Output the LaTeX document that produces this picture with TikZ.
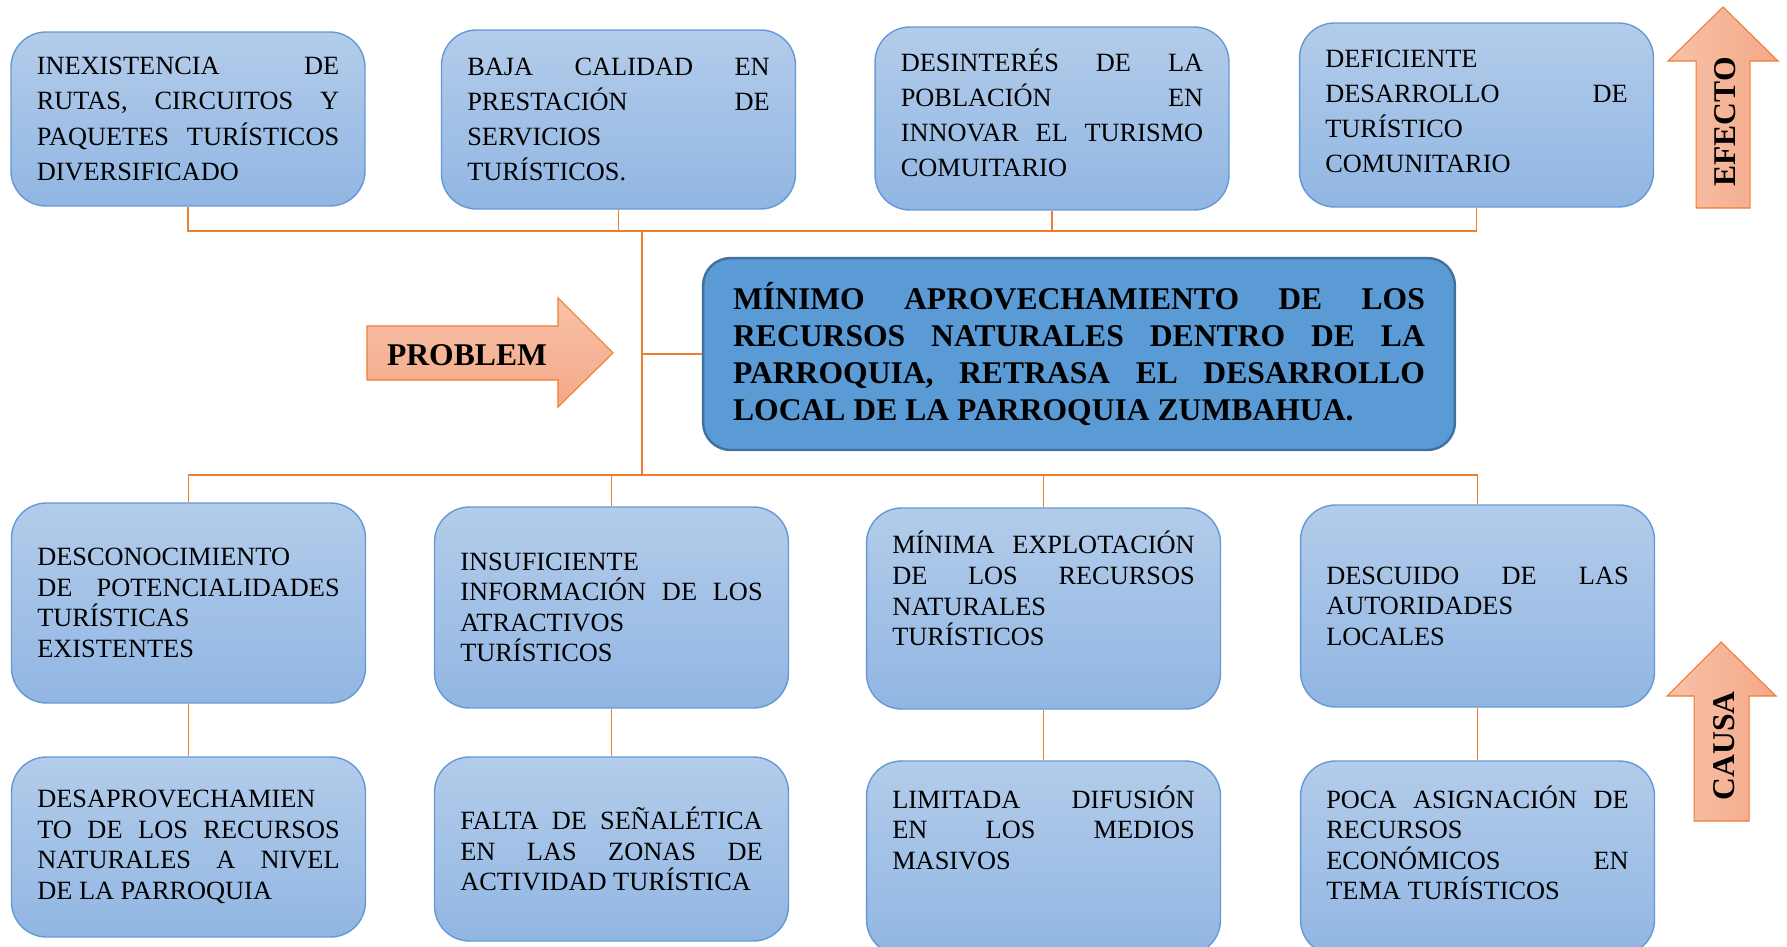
\documentclass[tikz,border=0pt]{standalone}
\usepackage{fontspec}
\setmainfont{Liberation Serif}

\definecolor{cajaarriba}{RGB}{179,204,234}
\definecolor{cajaabajo}{RGB}{145,182,227}
\definecolor{cajaborde}{RGB}{100,153,212}
\definecolor{problemafondo}{RGB}{91,155,213}
\definecolor{problemaborde}{RGB}{65,113,156}
\definecolor{linea}{RGB}{237,125,49}
\definecolor{flechaclara}{RGB}{247,194,168}
\definecolor{flechaoscura}{RGB}{244,168,136}

\tolerance=10000
\hbadness=10000

\begin{document}
\begin{tikzpicture}[x=0.02cm, y=-0.02cm,
  caja/.style={draw=cajaborde, line width=0.8pt, top color=cajaarriba, bottom color=cajaabajo,
    rounded corners=0.7cm, text width=6.05cm, inner xsep=0.515cm, inner ysep=0pt, align=justify},
  efecto/.style={caja, font=\fontsize{15}{20}\selectfont},
  causa/.style={caja, font=\fontsize{15}{17.4}\selectfont},
  conector/.style={draw=linea, line width=0.9pt},
  flecha/.style={draw=linea, line width=0.6pt},
  rotulo/.style={font=\fontsize{18}{21}\selectfont\bfseries}]
\useasboundingbox (0,0) rectangle (1787,946);

% efectos
\node[efecto, minimum height=3.48cm] (e1) at (188,119)
  {INEXISTENCIA DE\linebreak RUTAS, CIRCUITOS Y\linebreak PAQUETES TURÍSTICOS\linebreak DIVERSIFICADO};
\node[efecto, minimum height=3.58cm] (e2) at (618.5,119.5)
  {BAJA CALIDAD EN\linebreak PRESTACIÓN DE\linebreak SERVICIOS\newline TURÍSTICOS.};
\node[efecto, minimum height=3.66cm] (e3) at (1052,118.5)
  {DESINTERÉS DE LA\linebreak POBLACIÓN EN\linebreak INNOVAR EL TURISMO\linebreak COMUITARIO\rule[-0.23cm]{0pt}{0pt}};
\node[efecto, minimum height=3.68cm] (e4) at (1476.5,115)
  {DEFICIENTE\newline DESARROLLO DE\linebreak TURÍSTICO\newline COMUNITARIO\rule[-0.16cm]{0pt}{0pt}};

% problema central
\node[draw=problemaborde, line width=1.4pt, fill=problemafondo, rounded corners=0.55cm,
  text width=13.84cm, inner xsep=0.6cm, minimum height=3.84cm, align=justify,
  font=\fontsize{18}{21}\selectfont\bfseries] (p) at (1079,354)
  {MÍNIMO APROVECHAMIENTO DE LOS\linebreak RECURSOS NATURALES DENTRO DE LA\linebreak PARROQUIA, RETRASA EL DESARROLLO\linebreak LOCAL DE LA PARROQUIA ZUMBAHUA.};

% causas
\node[causa, minimum height=4cm] (c1) at (188.5,603)
  {DESCONOCIMIENTO\newline DE POTENCIALIDADES\linebreak TURÍSTICAS\newline EXISTENTES};
\node[causa, minimum height=4.02cm] (c2) at (611.5,607.5)
  {INSUFICIENTE\newline INFORMACIÓN DE LOS\linebreak ATRACTIVOS\newline TURÍSTICOS};
\node[causa, minimum height=4.02cm] (c3) at (1043.5,608.5)
  {MÍNIMA EXPLOTACIÓN\linebreak DE LOS RECURSOS\linebreak NATURALES\newline TURÍSTICOS\rule[-0.8cm]{0pt}{0pt}};
\node[causa, minimum height=4.04cm] (c4) at (1477.5,606)
  {DESCUIDO DE LAS\linebreak AUTORIDADES\newline LOCALES};

% subcausas
\node[causa, minimum height=3.6cm] (s1) at (188.5,847)
  {DESAPROVECHAMIEN\newline TO DE LOS RECURSOS\linebreak NATURALES A NIVEL\linebreak DE LA PARROQUIA};
\node[causa, minimum height=3.68cm] (s2) at (611.5,849)
  {FALTA DE SEÑALÉTICA\linebreak EN LAS ZONAS DE\linebreak ACTIVIDAD TURÍSTICA};
\node[causa, minimum height=3.88cm] (s3) at (1043.5,858)
  {LIMITADA DIFUSIÓN\linebreak EN LOS MEDIOS\linebreak MASIVOS\newline\mbox{}\newline\mbox{}};
\node[causa, minimum height=3.88cm] (s4) at (1477.5,858)
  {POCA ASIGNACIÓN DE\linebreak RECURSOS\newline ECONÓMICOS EN\linebreak TEMA TURÍSTICOS\newline\mbox{}};

% conectores
\coordinate (tt) at (642,231);
\coordinate (tb) at (642,475);
\draw[conector] (e1.south) |- (tt) -| (e4.south);
\draw[conector] (e2.south) -- (e2.south |- tt);
\draw[conector] (e3.south) -- (e3.south |- tt);
\draw[conector] (tt) -- (tb);
\draw[conector] (tt |- p.west) -- (p.west);
\draw[conector] (c1.north) |- (tb) -| (c4.north);
\draw[conector] (c2.north) -- (c2.north |- tb);
\draw[conector] (c3.north) -- (c3.north |- tb);
\draw[conector] (c1.south) -- (s1.north);
\draw[conector] (c2.south) -- (s2.north);
\draw[conector] (c3.south) -- (s3.north);
\draw[conector] (c4.south) -- (s4.north);

% flechas
\draw[flecha, top color=flechaclara, bottom color=flechaoscura]
  (367,326) -- (558,326) -- (558,298) -- (613,353) -- (558,407) -- (558,380) -- (367,380) -- cycle;
\node[rotulo] (problema) at (467,355) {PROBLEM};

\draw[flecha, left color=flechaclara, right color=flechaoscura]
  (1696,208) -- (1696,61) -- (1668,61) -- (1723,7) -- (1778,61) -- (1750,61) -- (1750,208) -- cycle;
\node[rotulo, rotate=90] (efe) at (1725,122) {EFECTO};

\draw[flecha, left color=flechaclara, right color=flechaoscura]
  (1694,821) -- (1694,696) -- (1667,696) -- (1721,642) -- (1776,696) -- (1749,696) -- (1749,821) -- cycle;
\node[rotulo, rotate=90] (cau) at (1724,746) {CAUSA};
\end{tikzpicture}
\end{document}
